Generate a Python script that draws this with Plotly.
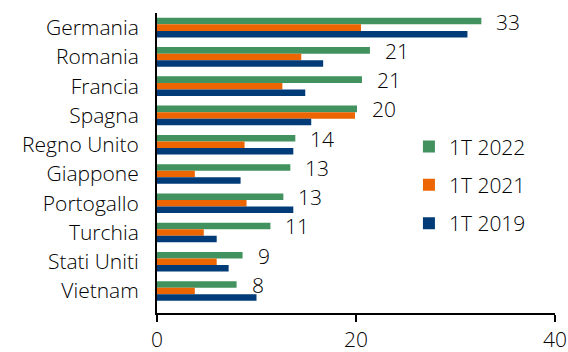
import plotly.graph_objects as go

# Countries, top to bottom
countries = ["Germania", "Romania", "Francia", "Spagna", "Regno Unito",
             "Giappone", "Portogallo", "Turchia", "Stati Uniti", "Vietnam"]

# Values per period
q1_2022 = [32.6, 21.4, 20.6, 20.1, 13.9, 13.4, 12.7, 11.4, 8.6, 8.0]
q1_2021 = [20.5, 14.5, 12.6, 19.9, 8.8, 3.8, 9.0, 4.7, 6.0, 3.8]
q1_2019 = [31.2, 16.7, 14.9, 15.5, 13.7, 8.4, 13.7, 6.0, 7.2, 10.0]

series = [
    ("1T 2022", q1_2022, "#42925f"),
    ("1T 2021", q1_2021, "#ec6500"),
    ("1T 2019", q1_2019, "#013b78"),
]

x_ticks = [0, 20, 40]

FONT = "Open Sans"
TXT = "#000000"
SIZE = 21
FNT = dict(family=FONT, size=SIZE, color=TXT, weight=300)

fig = go.Figure()
for i, (name, vals, col) in enumerate(series):
    fig.add_trace(go.Bar(
        y=countries, x=vals, name=name, orientation="h",
        marker=dict(color=col, line=dict(width=0)),
        legendgroup=f"g{i}",
    ))

# Value labels next to the 1T 2022 bars
for c, v in zip(countries, q1_2022):
    fig.add_annotation(
        x=v, y=c, text=f"{v:.0f}", showarrow=False,
        xanchor="left", yanchor="middle", xshift=13, yshift=6,
        font=FNT,
    )

fig.update_layout(
    width=568, height=352,
    margin=dict(l=157, r=13, t=13, b=39),
    paper_bgcolor="white", plot_bgcolor="white",
    barmode="group", bargap=0.33, bargroupgap=0,
    font=FNT,
    showlegend=True,
    legend=dict(
        x=0.633, y=0.622, xanchor="left", yanchor="top",
        font=FNT, tracegroupgap=8, itemwidth=30, bgcolor="rgba(0,0,0,0)",
    ),
)
fig.update_xaxes(
    range=[0, 40], tickvals=x_ticks, ticktext=[str(t) for t in x_ticks],
    showgrid=False, zeroline=False, automargin=False,
    showline=True, linecolor="black", linewidth=2,
    ticks="outside", ticklen=7, tickwidth=2, tickcolor="black",
    ticklabelstandoff=0,
    tickfont=FNT,
)
fig.update_yaxes(
    autorange="reversed", showgrid=False, zeroline=False, automargin=False,
    showline=True, linecolor="black", linewidth=2,
    ticks="", ticklabelstandoff=12,
    tickfont=FNT,
)

fig.write_html("out.html")
